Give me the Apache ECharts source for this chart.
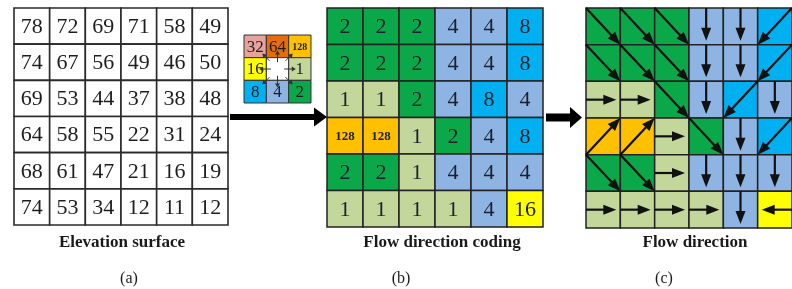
<!DOCTYPE html>
<html><head><meta charset="utf-8">
<script src="https://cdn.jsdelivr.net/npm/echarts@6/dist/echarts.min.js"></script>
<style>html,body{margin:0;padding:0;background:#fff}#c{width:792px;height:289px}</style>
</head><body><div id="c"></div>
<script>
// ---- data ----
const elevation = [
  [78,72,69,71,58,49],
  [74,67,56,49,46,50],
  [69,53,44,37,38,48],
  [64,58,55,22,31,24],
  [68,61,47,21,16,19],
  [74,53,34,12,11,12]
];
const flowCodes = [
  [2,2,2,4,4,8],
  [2,2,2,4,4,8],
  [1,1,2,4,8,4],
  [128,128,1,2,4,8],
  [2,2,1,4,4,4],
  [1,1,1,1,4,16]
];
const legendCodes = [
  [32,64,128],
  [16,null,1],
  [8,4,2]
];
const panelTitles = ['Elevation surface','Flow direction coding','Flow direction'];
const panelLabels = ['(a)','(b)','(c)'];
const codeColors = {1:'#C4D79B',2:'#0BA84A',4:'#8DB4E2',8:'#00B0F0',16:'#FFFF00',32:'#E6A39E',64:'#E46C0A',128:'#FFC000'};
const codeDirs = {1:[1,0],2:[1,1],4:[0,1],8:[-1,1],16:[-1,0],32:[-1,-1],64:[0,-1],128:[1,-1]};

// ---- helpers ----
function toCells(m){const out=[];m.forEach((row,r)=>row.forEach((v,c)=>out.push([c,r,v===null?-1:v])));return out;}
const SERIF='"Liberation Serif","Times New Roman",serif';

function arrowShape(x0,y0,x1,y1,headLen,headHalf){
  const dx=x1-x0, dy=y1-y0, L=Math.hypot(dx,dy), ux=dx/L, uy=dy/L;
  const bx=x1-ux*headLen, by=y1-uy*headLen;
  return {
    line:[[x0,y0],[bx+ux*1,by+uy*1]],
    head:[[x1,y1],[bx-uy*headHalf,by+ux*headHalf],[bx+uy*headHalf,by-ux*headHalf]]
  };
}

const chart = echarts.init(document.getElementById('c'), null, {renderer:'canvas'});

const grids = [
  {left:14,top:8,width:214,height:217},   // a
  {left:244,top:35,width:67,height:68},   // legend
  {left:327,top:8,width:216,height:219},  // b
  {left:586,top:8,width:218,height:220}   // c
];
const sizes=[6,3,6,6];
const xAxes = grids.map((g,i)=>({gridIndex:i,type:'value',min:0,max:sizes[i],show:false}));
const yAxes = grids.map((g,i)=>({gridIndex:i,type:'value',min:0,max:sizes[i],inverse:true,show:false}));

function cellRect(api){
  const c=api.value(0), r=api.value(1);
  const p0=api.coord([c,r]), p1=api.coord([c+1,r+1]);
  return {p0,p1,cx:(p0[0]+p1[0])/2,cy:(p0[1]+p1[1])/2};
}

const series = [
  // (a) elevation
  {type:'custom',xAxisIndex:0,yAxisIndex:0,clip:false,data:toCells(elevation),
   renderItem:(params,api)=>{const {p0,p1,cx,cy}=cellRect(api);
     return {type:'group',children:[
       {type:'rect',shape:{x:p0[0],y:p0[1],width:p1[0]-p0[0],height:p1[1]-p0[1]},style:{fill:'#fff',stroke:'#2b2b2b',lineWidth:1.6}},
       {type:'text',style:{text:String(api.value(2)),x:cx,y:cy+1,align:'center',verticalAlign:'middle',font:'22px '+SERIF,fill:'#1e1e1e'}}
     ]};}},
  // legend cells
  {type:'custom',xAxisIndex:1,yAxisIndex:1,clip:false,data:toCells(legendCodes),
   renderItem:(params,api)=>{const {p0,p1,cx,cy}=cellRect(api);const v=api.value(2);
     const ch=[{type:'rect',shape:{x:p0[0],y:p0[1],width:p1[0]-p0[0],height:p1[1]-p0[1]},style:{fill:v>0?codeColors[v]:'#fff',stroke:'#333',lineWidth:1}}];
     if(v>0){ch.push({type:'text',style:{text:String(v),x:cx,y:cy+1,align:'center',verticalAlign:'middle',font:(v===128?'bold 10px ':'17px ')+SERIF,fill:'#1e1e1e'}});}
     return {type:'group',children:ch};}},
  // legend arrows
  {type:'custom',xAxisIndex:1,yAxisIndex:1,clip:false,z:5,data:toCells(legendCodes).filter(d=>d[2]>0),
   renderItem:(params,api)=>{const v=api.value(2);const d=codeDirs[v];const diag=d[0]!==0&&d[1]!==0;
     const s=diag?0.36:0.3, t=diag?0.68:0.82;
     const a=api.coord([1.5+d[0]*s,1.5+d[1]*s]), b=api.coord([1.5+d[0]*t,1.5+d[1]*t]);
     const sh=arrowShape(a[0],a[1],b[0],b[1],4,2.5);
     return {type:'group',children:[
       {type:'polyline',shape:{points:sh.line},style:{stroke:'#333',lineWidth:1,fill:null}},
       {type:'polygon',shape:{points:sh.head},style:{fill:'#333'}}
     ]};}},
  // (b) flow coding
  {type:'custom',xAxisIndex:2,yAxisIndex:2,clip:false,data:toCells(flowCodes),
   renderItem:(params,api)=>{const {p0,p1,cx,cy}=cellRect(api);const v=api.value(2);
     return {type:'group',children:[
       {type:'rect',shape:{x:p0[0],y:p0[1],width:p1[0]-p0[0],height:p1[1]-p0[1]},style:{fill:codeColors[v],stroke:'#222',lineWidth:1.5}},
       {type:'text',style:{text:String(v),x:cx,y:cy+1,align:'center',verticalAlign:'middle',font:(v===128?'bold 13px ':'22px ')+SERIF,fill:'#1b1f2e'}}
     ]};}},
  // (c) flow direction cells
  {type:'custom',xAxisIndex:3,yAxisIndex:3,clip:false,data:toCells(flowCodes),
   renderItem:(params,api)=>{const {p0,p1}=cellRect(api);const v=api.value(2);
     return {type:'rect',shape:{x:p0[0],y:p0[1],width:p1[0]-p0[0],height:p1[1]-p0[1]},style:{fill:codeColors[v],stroke:'#222',lineWidth:1.5}};}},
  // (c) arrows
  {type:'custom',xAxisIndex:3,yAxisIndex:3,clip:false,z:5,data:toCells(flowCodes),
   renderItem:(params,api)=>{const c=api.value(0), r=api.value(1), v=api.value(2);const d=codeDirs[v];
     const diag=d[0]!==0&&d[1]!==0;
     const a=api.coord([c+0.5-d[0]*0.5,r+0.5-d[1]*0.5]);
     let b=api.coord([c+0.5+d[0]*0.5,r+0.5+d[1]*0.5]);
     if(!diag){b=[b[0]-d[0]*4,b[1]-d[1]*4];}
     const sh=arrowShape(a[0],a[1],b[0],b[1],13,5);
     return {type:'group',children:[
       {type:'polyline',shape:{points:sh.line},style:{stroke:'#111',lineWidth:2.2,fill:null}},
       {type:'polygon',shape:{points:sh.head},style:{fill:'#111'}}
     ]};}}
];

const titleX=[122,442,695], labelX=[129,401,664];
const graphic = [];
panelTitles.forEach((t,i)=>graphic.push({type:'text',x:titleX[i],y:243,style:{text:t,align:'center',verticalAlign:'middle',font:'bold 17px '+SERIF,fill:'#1a1a1a'}}));
panelLabels.forEach((t,i)=>graphic.push({type:'text',x:labelX[i],y:279,style:{text:t,align:'center',verticalAlign:'middle',font:'16px '+SERIF,fill:'#1a1a1a'}}));
graphic.push({type:'polygon',shape:{points:[[230,114],[314,114],[314,107.5],[327,117],[314,126.5],[314,120],[230,120]]},style:{fill:'#000'}});
graphic.push({type:'polygon',shape:{points:[[546,113.5],[570,113.5],[570,107],[582,117.5],[570,128],[570,121.5],[546,121.5]]},style:{fill:'#000'}});

chart.setOption({
  animation:false,
  backgroundColor:'#fff',
  grid:grids,
  xAxis:xAxes,
  yAxis:yAxes,
  series:series,
  graphic:graphic
});
</script>
</body></html>
